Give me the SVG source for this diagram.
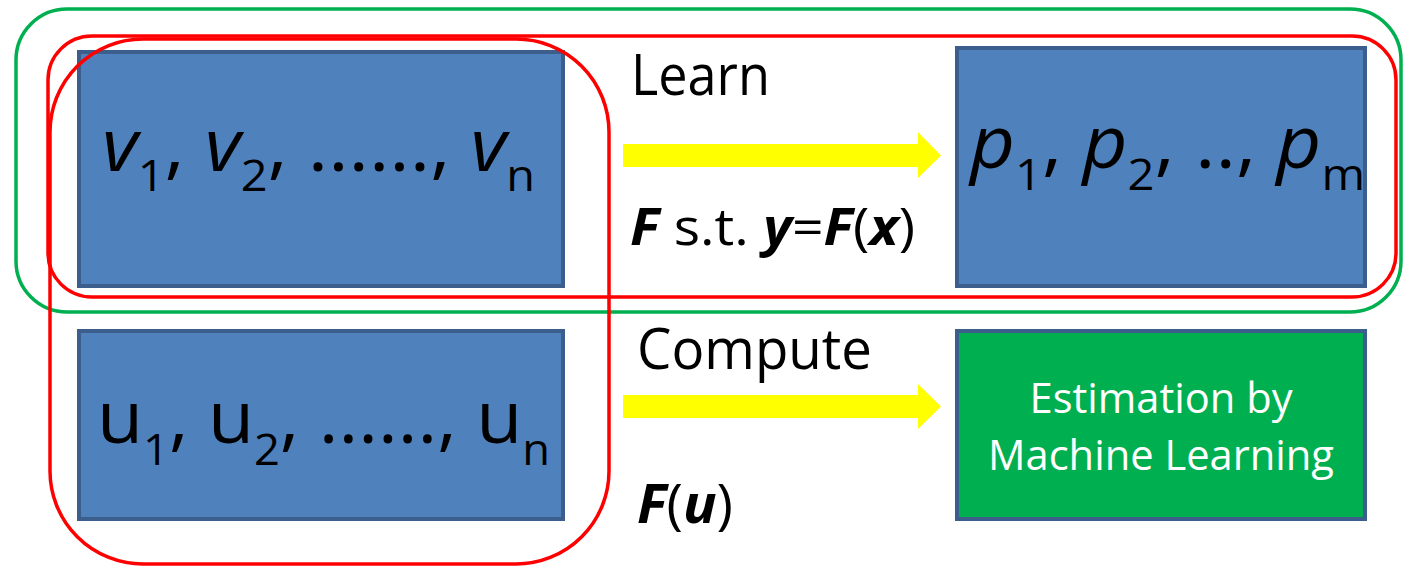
<svg xmlns="http://www.w3.org/2000/svg" width="1405" height="567" viewBox="0 0 1405 567">
  <style>
    .box { fill: #4F81BD; stroke: #3B5E8C; stroke-width: 4; }
    .mlbox { fill: #00B050; stroke: #3B5E8C; stroke-width: 4; }
    .red { fill: none; stroke: #FF0000; stroke-width: 3.5; }
    .green { fill: none; stroke: #00B050; stroke-width: 3.5; }
    .arrow { fill: #FFFF00; stroke: none; }
    .t { font-family: "Open Sans", "Liberation Sans", sans-serif; fill: #000000; }
    .big { font-size: 73px; }
    .sub { font-size: 44px; }
    .lbl { font-size: 56px; }
    .bi { font-weight: bold; font-style: italic; }
    .wt { font-family: "Open Sans", "Liberation Sans", sans-serif; fill: #FFFFFF; font-size: 42px; text-anchor: middle; }
  </style>

  <g id="node-v">
    <rect class="box" x="79" y="52" width="484" height="234"/>
    <text class="t big" x="102" y="171" textLength="433" lengthAdjust="spacingAndGlyphs"><tspan font-style="italic">v</tspan><tspan class="sub" y="191">1</tspan><tspan y="171">, </tspan><tspan font-style="italic">v</tspan><tspan class="sub" y="191">2</tspan><tspan y="171">, ......, </tspan><tspan font-style="italic">v</tspan><tspan class="sub" y="191">n</tspan></text>
  </g>

  <g id="node-p">
    <rect class="box" x="957" y="48" width="408" height="238"/>
    <text class="t big" x="970" y="168" textLength="395" lengthAdjust="spacingAndGlyphs"><tspan font-style="italic">p</tspan><tspan class="sub" y="190">1</tspan><tspan y="168">, </tspan><tspan font-style="italic">p</tspan><tspan class="sub" y="190">2</tspan><tspan y="168">, .., </tspan><tspan font-style="italic">p</tspan><tspan class="sub" y="190">m</tspan></text>
  </g>

  <g id="node-u">
    <rect class="box" x="79" y="331" width="484" height="188"/>
    <text class="t big" x="97" y="443" textLength="453" lengthAdjust="spacingAndGlyphs">u<tspan class="sub" y="465">1</tspan><tspan y="443">, u</tspan><tspan class="sub" y="465">2</tspan><tspan y="443">, ......, u</tspan><tspan class="sub" y="465">n</tspan></text>
  </g>

  <g id="node-ml">
    <rect class="mlbox" x="957" y="331" width="408" height="188"/>
    <text class="wt" x="1161" y="413" textLength="263" lengthAdjust="spacingAndGlyphs">Estimation by</text>
    <text class="wt" x="1161" y="470" textLength="346" lengthAdjust="spacingAndGlyphs">Machine Learning</text>
  </g>

  <g id="connectors">
    <polygon class="arrow" points="623,144 918,144 918,132 941,155.5 918,178 918,167 623,167"/>
    <polygon class="arrow" points="623,395 918,395 918,384 941,406.5 918,429 918,418 623,418"/>
    <text class="t lbl" x="631" y="95" textLength="139" lengthAdjust="spacingAndGlyphs">Learn</text>
    <text class="t" font-size="52" x="630" y="245" textLength="285" lengthAdjust="spacingAndGlyphs"><tspan class="bi">F</tspan> s.t. <tspan class="bi">y</tspan>=<tspan class="bi">F</tspan>(<tspan class="bi">x</tspan>)</text>
    <text class="t lbl" x="637" y="369" textLength="235" lengthAdjust="spacingAndGlyphs">Compute</text>
    <text class="t" font-size="54" x="637" y="523" textLength="96" lengthAdjust="spacingAndGlyphs"><tspan class="bi">F</tspan>(<tspan class="bi">u</tspan>)</text>
  </g>

  <g id="group-outlines">
    <rect class="green" x="16" y="9" width="1385" height="303" rx="51" ry="51"/>
    <rect class="red" x="48" y="36" width="1348" height="261" rx="44" ry="44"/>
    <rect class="red" x="50" y="39" width="559" height="525" rx="93" ry="93"/>
  </g>
</svg>
